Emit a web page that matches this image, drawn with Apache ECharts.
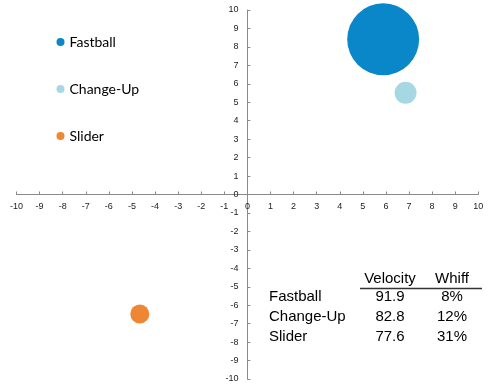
<!DOCTYPE html>
<html>
<head>
<meta charset="utf-8">
<script src="https://cdn.jsdelivr.net/npm/echarts@6/dist/echarts.min.js"></script>
<style>html,body{margin:0;padding:0;background:#fff}#c{width:496px;height:391px}</style>
</head>
<body>
<div id="c"></div>
<script>
// Data
const pitches = ['Fastball', 'Change-Up', 'Slider'];
const xValues = [5.88, 6.85, -4.66];
const yValues = [8.41, 5.52, -6.48];
const usage = [86, 8, 6];           // bubble size dimension (area)
const velocity = ['91.9', '82.8', '77.6'];
const whiff = ['8%', '12%', '31%'];
const tableHeaders = ['Velocity', 'Whiff'];
const colors = ['#0a87c8', '#a6d8e4', '#ef8634'];

const chart = echarts.init(document.getElementById('c'), null, {renderer: 'canvas'});

const series = pitches.map((name, i) => ({
  name: name,
  type: 'scatter',
  data: [[xValues[i], yValues[i], usage[i]]],
  symbolSize: v => Math.sqrt(v[2]) * 7.76,
  itemStyle: {color: colors[i], opacity: 1},
  emphasis: {disabled: true}
}));

const tFont = '"Liberation Sans", Arial, sans-serif';
const graphics = [];
const colX = [390, 452];
graphics.push({type: 'text', x: colX[0], y: 279, style: {text: tableHeaders[0], font: '15px ' + tFont, fill: '#000', align: 'center', verticalAlign: 'middle'}});
graphics.push({type: 'text', x: colX[1], y: 279, style: {text: tableHeaders[1], font: '15px ' + tFont, fill: '#000', align: 'center', verticalAlign: 'middle'}});
graphics.push({type: 'line', shape: {x1: 360, y1: 288.5, x2: 482, y2: 288.5}, style: {stroke: '#333', lineWidth: 1.5}});
const rowY = [297, 317, 336.5];
pitches.forEach((p, i) => {
  graphics.push({type: 'text', x: 269, y: rowY[i], style: {text: p, font: '15px ' + tFont, fill: '#000', align: 'left', verticalAlign: 'middle'}});
  graphics.push({type: 'text', x: colX[0], y: rowY[i], style: {text: velocity[i], font: '15px ' + tFont, fill: '#000', align: 'center', verticalAlign: 'middle'}});
  graphics.push({type: 'text', x: colX[1], y: rowY[i], style: {text: whiff[i], font: '15px ' + tFont, fill: '#000', align: 'center', verticalAlign: 'middle'}});
});

const W = 496, H = 391;
const gl = 16.5, gr = 17.7, gt = 10, gb = 12;
const plotW = W - gl - gr, plotH = H - gt - gb;

const axisCommon = {
  type: 'value',
  min: -10, max: 10, interval: 1,
  splitLine: {show: false},
  axisTick: {show: true, inside: true, length: 3, lineStyle: {color: '#8a8a8a'}},
};
const labelCommon = {fontFamily: '"Liberation Sans", Arial, sans-serif', fontSize: 9, color: '#222'};

chart.setOption({
  animation: false,
  backgroundColor: '#fff',
  grid: {left: gl, right: gr, top: gt, bottom: gb, containLabel: false},
  xAxis: Object.assign({}, axisCommon, {
    position: 'bottom',
    offset: -plotH / 2,
    axisLine: {onZero: false, lineStyle: {color: '#8a8a8a', width: 1}},
    axisLabel: Object.assign({}, labelCommon, {margin: 8})
  }),
  yAxis: Object.assign({}, axisCommon, {
    position: 'left',
    offset: -plotW / 2,
    axisLine: {onZero: false, lineStyle: {color: '#8a8a8a', width: 1}},
    axisLabel: Object.assign({}, labelCommon, {margin: 9})
  }),
  legend: {
    orient: 'vertical',
    left: 56.5, top: 34,
    padding: 0,
    icon: 'circle',
    itemWidth: 8, itemHeight: 8,
    itemGap: 31,
    selectedMode: false,
    textStyle: {fontFamily: 'Lato, "Open Sans", sans-serif', fontSize: 14, color: '#000', lineHeight: 16},
    data: pitches
  },
  series: series,
  graphic: graphics
});
</script>
</body>
</html>
